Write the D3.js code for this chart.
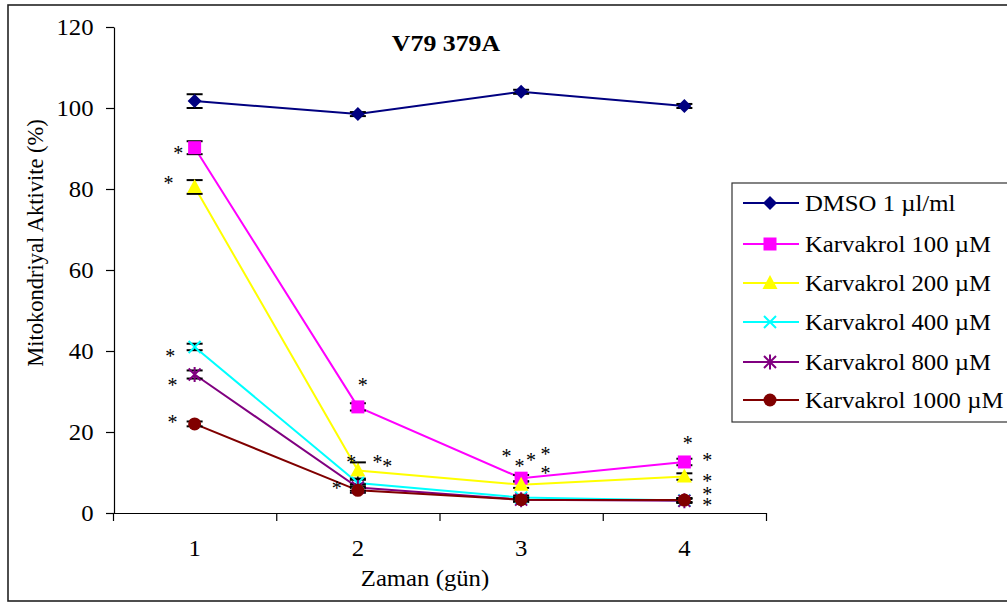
<!DOCTYPE html>
<html>
<head>
<meta charset="utf-8">
<script src="https://cdn.jsdelivr.net/npm/d3@7"></script>
</head>
<body style="margin:0;background:#fff">
<svg id="chart" width="1007" height="604" font-family="'Liberation Serif', serif"></svg>
<script>
// Days on the x axis
const days = [1, 2, 3, 4];
const dayLabels = ["1", "2", "3", "4"];
const yTicks = [0, 20, 40, 60, 80, 100, 120];

// Mean mitochondrial activity (%) per series, with error values
const seriesNames = ["DMSO 1 µl/ml", "Karvakrol 100 µM", "Karvakrol 200 µM",
                     "Karvakrol 400 µM", "Karvakrol 800 µM", "Karvakrol 1000 µM"];
const dmso   = [101.7, 98.5, 104.0, 100.5];
const k100   = [90.2, 26.2, 8.6, 12.6];
const k200   = [80.5, 10.5, 7.0, 9.0];
const k400   = [41.0, 7.4, 3.8, 3.1];
const k800   = [34.2, 6.3, 3.3, 3.0];
const k1000  = [22.0, 5.6, 3.3, 3.2];
const dmsoErr  = [1.7, 0.5, 0.5, 0.5];
const k100Err  = [1.6, 0.9, 0.8, 0.8];
const k200Err  = [1.7, 2.0, 0.8, 0.8];
const k400Err  = [0.8, 0.8, 0.5, 0.5];
const k800Err  = [1.0, 0.8, 0.5, 0.5];
const k1000Err = [0.6, 0.6, 0.5, 0.5];

// Significance marks (*): day position and value level
const starDay   = [0.90, 0.84, 0.85, 0.865, 0.865, 2.03, 1.96, 2.12, 2.18, 1.87,
                   2.91, 2.99, 3.06, 3.15, 3.15, 4.02, 4.14, 4.14, 4.14, 4.14];
const starValue = [89.6, 82.2, 39.3, 32.1, 23.0, 32.1, 13.1, 13.1, 12.1, 6.7,
                   14.8, 12.3, 13.8, 15.1, 10.6, 18.0, 13.6, 8.6, 5.2, 2.5];

const values = [dmso, k100, k200, k400, k800, k1000];
const errors = [dmsoErr, k100Err, k200Err, k400Err, k800Err, k1000Err];
const colors = ["#000080", "#FF00FF", "#FFFF00", "#00FFFF", "#800080", "#800000"];
const shapes = ["diamond", "square", "triangle", "cross", "star", "circle"];

const FONT = "'Liberation Serif', serif";
const svg = d3.select("#chart");
const sx = 1.1; // horizontal text stretch

// Outer frame
svg.append("rect").attr("x", 8).attr("y", 5).attr("width", 1010).attr("height", 596)
  .attr("fill", "none").attr("stroke", "#222").attr("stroke-width", 1.6);

const x = d3.scaleLinear().domain([0.5, 4.5]).range([113, 766]);
const y = d3.scaleLinear().domain([0, 120]).range([513, 27]);

// Y axis
const yAxis = svg.append("g").attr("transform", "translate(114,0)")
  .call(d3.axisLeft(y).tickValues(yTicks).tickSize(8).tickPadding(9).tickSizeOuter(0))
  .attr("font-family", FONT).attr("font-size", 22.5);
yAxis.select(".domain").attr("stroke", "#000").attr("stroke-width", 1.2);
yAxis.selectAll(".tick line").attr("stroke", "#000").attr("stroke-width", 1.2);
yAxis.selectAll(".tick text")
  .attr("fill", "#000")
  .attr("dy", "0.34em")
  .attr("transform", function () {
    const tx = +d3.select(this).attr("x");
    return `translate(${tx * (sx - 1)},0) scale(${sx},1)`;
  });

// X axis: ticks between days, labels at day centres
const xAxis = svg.append("g").attr("transform", "translate(0,513)")
  .call(d3.axisBottom(x).tickValues([0.5, 1.5, 2.5, 3.5, 4.5]).tickFormat("")
    .tickSize(8).tickSizeOuter(0));
xAxis.select(".domain").attr("stroke", "#000").attr("stroke-width", 1.2);
xAxis.selectAll(".tick line").attr("stroke", "#000").attr("stroke-width", 1.2);

svg.append("g").selectAll("text").data(days).join("text")
  .attr("transform", d => `translate(${x(d)},556) scale(${sx},1)`)
  .attr("text-anchor", "middle").attr("font-size", 22.5).attr("font-family", FONT)
  .text((d, i) => dayLabels[i]);

// Axis titles and chart title
svg.append("text")
  .attr("transform", `translate(425,586) scale(${sx},1)`)
  .attr("text-anchor", "middle").attr("font-size", 22.5).attr("font-family", FONT)
  .text("Zaman (gün)");

svg.append("text")
  .attr("transform", "translate(43,243) rotate(-90)")
  .attr("text-anchor", "middle").attr("font-size", 22.5).attr("font-family", FONT)
  .text("Mitokondriyal Aktivite (%)");

svg.append("text")
  .attr("transform", `translate(446,51) scale(${sx},1)`)
  .attr("text-anchor", "middle").attr("font-size", 23.5).attr("font-weight", "bold")
  .attr("font-family", FONT)
  .text("V79 379A");

// Marker drawing
function drawMarker(g, shape, color) {
  switch (shape) {
    case "diamond":
      g.append("path").attr("d", "M0,-7L7,0L0,7L-7,0Z").attr("fill", color);
      break;
    case "square":
      g.append("rect").attr("x", -6.5).attr("y", -6.5).attr("width", 13).attr("height", 13).attr("fill", color);
      break;
    case "triangle":
      g.append("path").attr("d", "M0,-8L7.5,6L-7.5,6Z").attr("fill", color);
      break;
    case "cross":
      g.append("path").attr("d", "M-6,-6L6,6M-6,6L6,-6").attr("stroke", color).attr("stroke-width", 2).attr("fill", "none");
      break;
    case "star":
      g.append("path").attr("d", "M-6,-6L6,6M-6,6L6,-6M0,-7.5L0,7.5").attr("stroke", color).attr("stroke-width", 2).attr("fill", "none");
      break;
    case "circle":
      g.append("circle").attr("r", 6.5).attr("fill", color);
      break;
  }
}

const line = d3.line().x((d, i) => x(days[i])).y(d => y(d));

// Series lines
values.forEach((vals, s) => {
  svg.append("path").datum(vals).attr("d", line)
    .attr("fill", "none").attr("stroke", colors[s]).attr("stroke-width", 2);
});

// Error bars
values.forEach((vals, s) => {
  const g = svg.append("g");
  vals.forEach((v, i) => {
    const cx = x(days[i]);
    const e = errors[s][i];
    const y0 = y(v - e), y1 = y(v + e);
    g.append("line").attr("x1", cx).attr("x2", cx).attr("y1", y0).attr("y2", y1)
      .attr("stroke", "#000").attr("stroke-width", 1.5);
    [y0, y1].forEach(yy => g.append("line").attr("x1", cx - 8).attr("x2", cx + 8)
      .attr("y1", yy).attr("y2", yy).attr("stroke", "#000").attr("stroke-width", 2));
  });
});

// Markers
values.forEach((vals, s) => {
  vals.forEach((v, i) => {
    const g = svg.append("g").attr("transform", `translate(${x(days[i])},${y(v)})`);
    drawMarker(g, shapes[s], colors[s]);
  });
});

// Significance asterisks
svg.append("g").selectAll("text").data(starDay).join("text")
  .attr("x", d => x(d))
  .attr("y", (d, i) => y(starValue[i]) + 9.5)
  .attr("text-anchor", "middle").attr("font-size", 20).attr("font-family", FONT)
  .text("*");

// Legend
const legend = svg.append("g");
legend.append("rect").attr("x", 732).attr("y", 183).attr("width", 300).attr("height", 239)
  .attr("fill", "#fff").attr("stroke", "#333").attr("stroke-width", 1.2);
const legendY = [203, 244, 283, 322, 362, 400];
seriesNames.forEach((name, s) => {
  const ly = legendY[s];
  legend.append("line").attr("x1", 743).attr("x2", 799).attr("y1", ly).attr("y2", ly)
    .attr("stroke", colors[s]).attr("stroke-width", 2);
  const g = legend.append("g").attr("transform", `translate(770,${ly})`);
  drawMarker(g, shapes[s], colors[s]);
  legend.append("text")
    .attr("transform", `translate(805,${ly + 8}) scale(${sx},1)`)
    .attr("font-size", 22.5).attr("font-family", FONT)
    .text(name);
});
</script>
</body>
</html>
